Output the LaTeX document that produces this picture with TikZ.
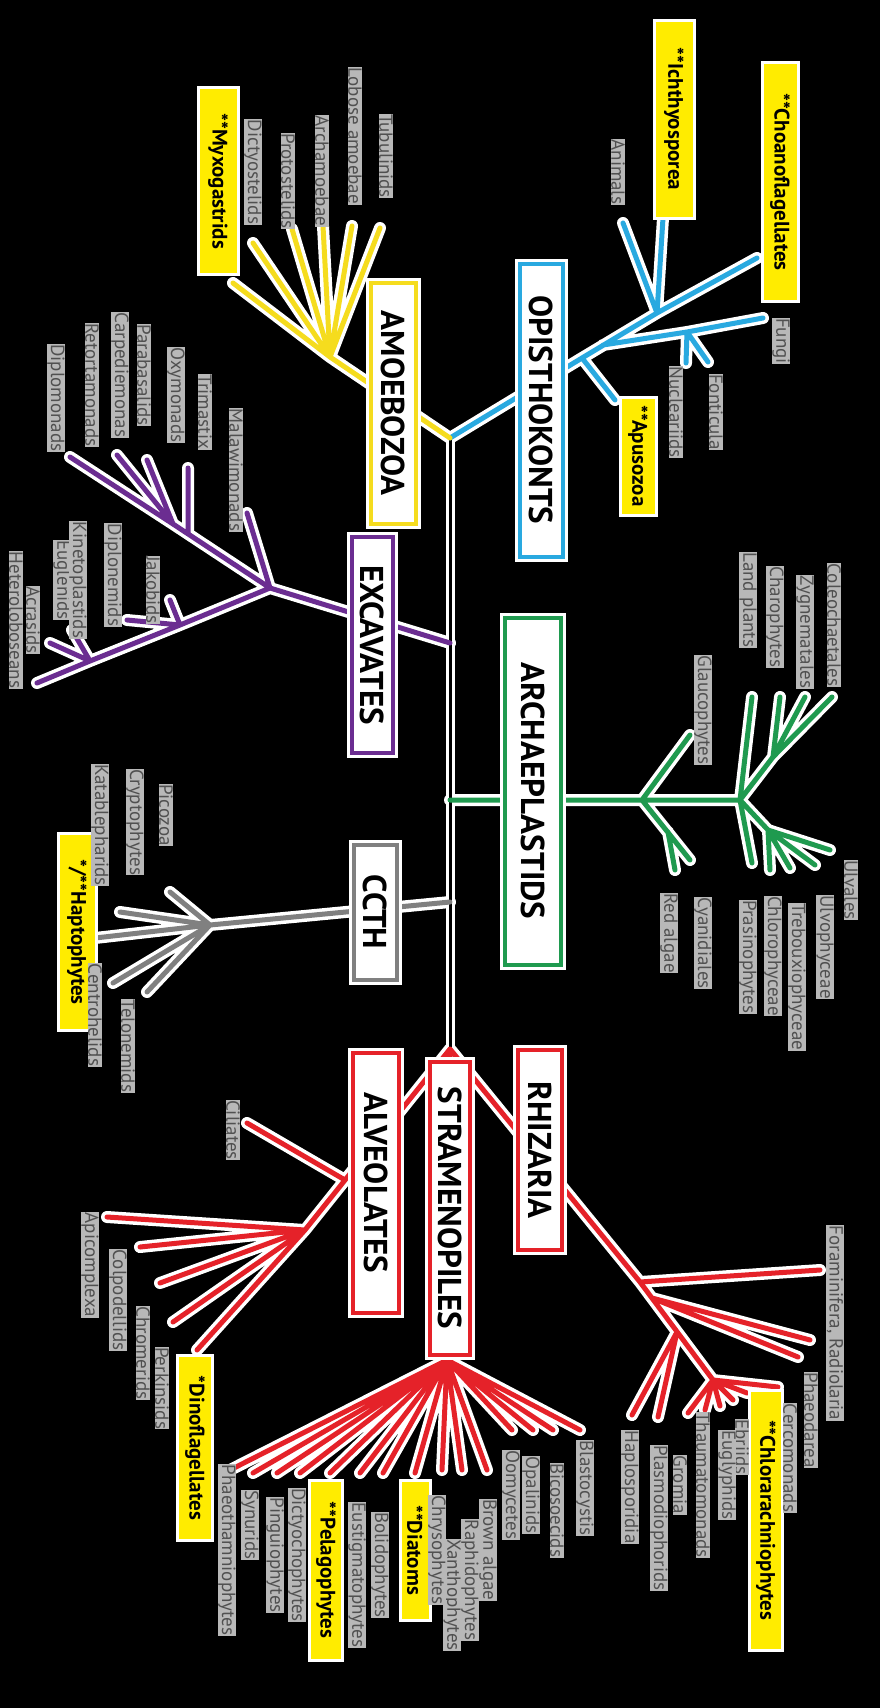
\documentclass[tikz,border=0pt]{standalone}
\usepackage{fontspec}
\setmainfont{PT Sans}
\definecolor{opi}{HTML}{29A9E0}
\definecolor{amo}{HTML}{F5DC1E}
\definecolor{exc}{HTML}{6B2D91}
\definecolor{arc}{HTML}{1F9A4F}
\definecolor{cct}{HTML}{808080}
\definecolor{rdd}{HTML}{E52229}
\definecolor{hly}{HTML}{FFEC00}
\definecolor{labfill}{HTML}{B8B8B8}
\definecolor{labtext}{HTML}{505050}
\newcommand\pathOpi{(J0)--(N1)--(N2)--(oCho) (N2)--(oIch) (N2)--(oAni) (N1)--(oApu) (NA)--(N3)--(oFun) (N3)--(oNuA) (N3)--(oNuB)}
\newcommand\pathAmo{(J0)--(AM1) (AM1)--(a1) (AM1)--(a2) (AM1)--(a3) (AM1)--(a4) (AM1)--(a5) (AM1)--(a6)}
\newcommand\pathExc{(JE)--(E1)--(e1) (E1)--(E2)--(e2) (E2)--(e3) (E2)--(e4) (Em)--(e5) (E1)--(E3)--(E4)--(e6) (E3)--(e7) (E3)--(e8) (E4)--(e9) (E4)--(e10)}
\newcommand\pathArc{(JA)--(G1)--(G2) (G1)--(g1) (G1)--(g2) (Gb)--(g3) (G2)--(g4) (G2)--(G3)--(g5) (G3)--(g6) (G3)--(g7) (G2)--(g8) (G2)--(G4)--(g9) (G4)--(g10) (G4)--(g11) (G4)--(g12)}
\newcommand\pathCct{(JC)--(C1)--(c1) (C1)--(c2) (C1)--(c3) (C1)--(c4) (C1)--(c5)}
\newcommand\pathRed{(J1)--(R1)--(r1) (R1)--(R3) (R2)--(r2) (R2)--(r3) (Rm)--(r4) (Rm)--(r5) (R3)--(r6) (R3)--(r7) (R3)--(r8) (R3)--(r9) (R3)--(r10) (R3)--(r11)
 (J1)--(A2) (A1)--(al0) (A2)--(al1) (A2)--(al2) (A2)--(al3) (A2)--(al4) (A2)--(al5)
 (J1)--(S1) (S1)--(s1) (S1)--(s2) (S1)--(s3) (S1)--(s4) (S1)--(s5) (S1)--(s6) (S1)--(s7) (S1)--(s8) (S1)--(s9) (S1)--(s10) (S1)--(s11) (S1)--(s12) (S1)--(s13) (S1)--(s14) (S1)--(s15)}
\begin{document}
\begin{tikzpicture}[x=1pt,y=-1pt,
 halo/.style={draw=white,line width=12pt,line cap=round},
 br/.style={draw=#1,line width=5pt,line cap=round},
 grp/.style={draw=#1,fill=white,line width=4pt,rotate=-90,text=black,inner sep=0pt,
   preaction={draw=white,line width=10pt},font=\bfseries\fontsize{33}{33}\selectfont},
 hl/.style={fill=hly,draw=white,line width=3pt,rotate=-90,text=black,inner sep=2pt,
   font=\bfseries\fontsize{21}{21}\selectfont},
 lab/.style={rotate=-90,text=labtext,fill=labfill,inner sep=0.5pt,
   font=\fontsize{19}{19}\selectfont}]
\fill[black] (0,0) rectangle (880,1708);
\useasboundingbox (0,0) rectangle (880,1708);
% trunk junctions
\coordinate (J0) at (450,438);
\coordinate (J1) at (450,1049);
\coordinate (JE) at (450,643);
\coordinate (JA) at (450,800);
\coordinate (JC) at (450,902);
% opisthokonts
\coordinate (N1) at (582,358);
\coordinate (N2) at (657,313);
\coordinate (NA) at (603,345);
\coordinate (N3) at (687,332);
\coordinate (oCho) at (757,258);
\coordinate (oIch) at (663,218);
\coordinate (oAni) at (623,223);
\coordinate (oApu) at (615,400);
\coordinate (oFun) at (763,318);
\coordinate (oNuA) at (686,363);
\coordinate (oNuB) at (708,362);
% amoebozoa
\coordinate (AM1) at (330,357);
\coordinate (a1) at (380,228);
\coordinate (a2) at (352,226);
\coordinate (a3) at (323,226);
\coordinate (a4) at (292,229);
\coordinate (a5) at (253,243);
\coordinate (a6) at (233,283);
% excavates
\coordinate (E1) at (270,588);
\coordinate (E2) at (173,524);
\coordinate (Em) at (188,534);
\coordinate (E3) at (180,625);
\coordinate (E4) at (90,661);
\coordinate (e1) at (247,513);
\coordinate (e2) at (70,457);
\coordinate (e3) at (117,455);
\coordinate (e4) at (147,460);
\coordinate (e5) at (188,468);
\coordinate (e6) at (37,683);
\coordinate (e7) at (127,620);
\coordinate (e8) at (170,600);
\coordinate (e9) at (50,643);
\coordinate (e10) at (72,630);
% archaeplastids
\coordinate (G1) at (642,800);
\coordinate (G2) at (740,800);
\coordinate (Gb) at (668,832);
\coordinate (G3) at (773,757);
\coordinate (G4) at (768,830);
\coordinate (g1) at (690,735);
\coordinate (g2) at (690,860);
\coordinate (g3) at (675,870);
\coordinate (g4) at (752,697);
\coordinate (g5) at (780,697);
\coordinate (g6) at (805,697);
\coordinate (g7) at (832,697);
\coordinate (g8) at (752,863);
\coordinate (g9) at (770,870);
\coordinate (g10) at (790,868);
\coordinate (g11) at (815,865);
\coordinate (g12) at (830,850);
% ccth
\coordinate (C1) at (210,925);
\coordinate (c1) at (120,912);
\coordinate (c2) at (170,892);
\coordinate (c3) at (95,938);
\coordinate (c4) at (113,983);
\coordinate (c5) at (147,992);
% rhizaria
\coordinate (R1) at (640,1282);
\coordinate (R2) at (652,1298);
\coordinate (Rm) at (677,1332);
\coordinate (R3) at (713,1380);
\coordinate (r1) at (820,1270);
\coordinate (r2) at (810,1340);
\coordinate (r3) at (798,1357);
\coordinate (r4) at (632,1415);
\coordinate (r5) at (658,1417);
\coordinate (r6) at (778,1387);
\coordinate (r7) at (747,1393);
\coordinate (r8) at (733,1400);
\coordinate (r9) at (720,1406);
\coordinate (r10) at (705,1410);
\coordinate (r11) at (688,1413);
% alveolates
\coordinate (A1) at (345,1180);
\coordinate (A2) at (305,1230);
\coordinate (al0) at (247,1123);
\coordinate (al1) at (107,1217);
\coordinate (al2) at (140,1247);
\coordinate (al3) at (160,1283);
\coordinate (al4) at (173,1322);
\coordinate (al5) at (197,1350);
% stramenopiles
\coordinate (S1) at (447,1360);
\coordinate (s1) at (512,1430);
\coordinate (s2) at (533,1430);
\coordinate (s3) at (553,1430);
\coordinate (s4) at (580,1430);
\coordinate (s5) at (487,1470);
\coordinate (s6) at (462,1470);
\coordinate (s7) at (442,1470);
\coordinate (s8) at (415,1473);
\coordinate (s9) at (383,1473);
\coordinate (s10) at (360,1473);
\coordinate (s11) at (330,1473);
\coordinate (s12) at (300,1473);
\coordinate (s13) at (277,1473);
\coordinate (s14) at (253,1473);
\coordinate (s15) at (230,1470);
% halos
\draw[halo] \pathOpi \pathAmo \pathExc \pathArc \pathCct \pathRed;
\draw[draw=white,line width=9pt] (J0)--(J1);
\draw[draw=black,line width=3pt] (J0)--(J1);
% coloured branches
\draw[br=opi] \pathOpi;
\draw[br=amo] \pathAmo;
\draw[br=exc] \pathExc;
\draw[br=arc] \pathArc;
\draw[br=cct] \pathCct;
\draw[br=rdd] \pathRed;
% group boxes
\node[grp=opi,minimum width=293,minimum height=43] (gOpi) at (541,410) {OPISTHOKONTS};
\node[grp=amo,minimum width=241,minimum height=45] (gAmo) at (393,403) {AMOEBOZOA};
\node[grp=exc,minimum width=216,minimum height=41] (gExc) at (372,645) {EXCAVATES};
\node[grp=arc,minimum width=347,minimum height=56] (gArc) at (533,791) {ARCHAEPLASTIDS};
\node[grp=cct,minimum width=135,minimum height=43] (gCct) at (375,912) {CCTH};
\node[grp=rdd,minimum width=200,minimum height=44] (gRhi) at (540,1150) {RHIZARIA};
\node[grp=rdd,minimum width=260,minimum height=46] (gAlv) at (376,1183) {ALVEOLATES};
\node[grp=rdd,minimum width=293,minimum height=40] (gStr) at (450,1208) {STRAMENOPILES};
% highlighted taxa
\node[hl,minimum width=239,minimum height=36] (hCho) at (780,182) {**Choanoflagellates};
\node[hl,minimum width=198,minimum height=40] (hIch) at (674,119) {**Ichthyosporea};
\node[hl,minimum width=118,minimum height=36] (hApu) at (638,456) {**Apusozoa};
\node[hl,minimum width=187,minimum height=40] (hMyx) at (218,181) {**Myxogastrids};
\node[hl,minimum width=197,minimum height=38] (hHap) at (77,932) {*/**Haptophytes};
\node[hl,minimum width=260,minimum height=33] (hChl) at (766,1520) {**Chlorarachniophytes};
\node[hl,minimum width=185,minimum height=35] (hDin) at (195,1448) {*Dinoflagellates};
\node[hl,minimum width=140,minimum height=30] (hDia) at (415,1550) {**Diatoms};
\node[hl,minimum width=180,minimum height=33] (hPel) at (326,1570) {**Pelagophytes};
% grey taxa labels
\node[lab] (tAni) at (618,172) {Animals};
\node[lab] (tFun) at (781,341) {Fungi};
\node[lab] (tNuc) at (676,412) {Nucleariids};
\node[lab] (tFon) at (716,412) {Fonticula};
\node[lab] (tDic) at (253,172) {Dictyostelids};
\node[lab] (tPro) at (288,181) {Protostelids};
\node[lab] (tArm) at (322,171) {Archamoebae};
\node[lab] (tLob) at (355,136) {Lobose amoebae};
\node[lab] (tTub) at (386,156) {Tubulinids};
\node[lab] (tDip) at (56,398) {Diplomonads};
\node[lab] (tRet) at (92,385) {Retortamonads};
\node[lab] (tCar) at (120,375) {Carpediemonas};
\node[lab] (tPar) at (144,375) {Parabasalids};
\node[lab] (tOxy) at (176,395) {Oxymonads};
\node[lab] (tTri) at (205,412) {Trimastix};
\node[lab] (tMal) at (236,470) {Malawimonads};
\node[lab] (tHet) at (16,620) {Heteroloboseans};
\node[lab] (tAcr) at (33,620) {Acrasids};
\node[lab] (tEug) at (62,580) {Euglenids};
\node[lab] (tKin) at (78,580) {Kinetoplastids};
\node[lab] (tDpn) at (113,575) {Diplonemids};
\node[lab] (tJak) at (153,590) {Jakobids};
\node[lab] (tKat) at (100,825) {Katablepharids};
\node[lab] (tCry) at (135,822) {Cryptophytes};
\node[lab] (tPic) at (166,815) {Picozoa};
\node[lab] (tCen) at (95,1015) {Centrohelids};
\node[lab] (tTel) at (128,1046) {Telonemids};
\node[lab] (tGla) at (703,710) {Glaucophytes};
\node[lab] (tLan) at (748,600) {Land plants};
\node[lab] (tCha) at (775,617) {Charophytes};
\node[lab] (tZyg) at (805,632) {Zygnematales};
\node[lab] (tCol) at (834,625) {Coleochaetales};
\node[lab] (tRed) at (669,933) {Red algae};
\node[lab] (tCya) at (703,943) {Cyanidiales};
\node[lab] (tPra) at (748,957) {Prasinophytes};
\node[lab] (tChp) at (773,956) {Chlorophyceae};
\node[lab] (tTre) at (797,977) {Trebouxiophyceae};
\node[lab] (tUlv) at (825,947) {Ulvophyceae};
\node[lab] (tUla) at (851,890) {Ulvales};
\node[lab] (tFor) at (835,1323) {Foraminifera, Radiolaria};
\node[lab] (tPha) at (811,1420) {Phaeodarea};
\node[lab] (tCer) at (790,1458) {Cercomonads};
\node[lab] (tEbr) at (742,1447) {Ebriids};
\node[lab] (tEgl) at (727,1475) {Euglyphids};
\node[lab] (tTha) at (703,1485) {Thaumatomonads};
\node[lab] (tGro) at (680,1485) {Gromia};
\node[lab] (tPls) at (659,1518) {Plasmodiophorids};
\node[lab] (tHap) at (630,1487) {Haplosporidia};
\node[lab] (tCil) at (233,1130) {Ciliates};
\node[lab] (tApi) at (90,1265) {Apicomplexa};
\node[lab] (tCpd) at (118,1300) {Colpodellids};
\node[lab] (tChr) at (143,1353) {Chromerids};
\node[lab] (tPer) at (162,1388) {Perkinsids};
\node[lab] (tOom) at (511,1495) {Oomycetes};
\node[lab] (tOpa) at (531,1495) {Opalinids};
\node[lab] (tBic) at (557,1510) {Bicosoecids};
\node[lab] (tBla) at (585,1488) {Blastocystis};
\node[lab] (tBro) at (488,1550) {Brown algae};
\node[lab] (tRap) at (470,1580) {Raphidophytes};
\node[lab] (tXan) at (452,1595) {Xanthophytes};
\node[lab] (tChy) at (437,1550) {Chrysophytes};
\node[lab] (tBol) at (380,1565) {Bolidophytes};
\node[lab] (tEus) at (357,1575) {Eustigmatophytes};
\node[lab] (tDct) at (297,1555) {Dictyochophytes};
\node[lab] (tPin) at (275,1555) {Pinguiophytes};
\node[lab] (tSyn) at (250,1525) {Synurids};
\node[lab] (tPht) at (227,1550) {Phaeothamniophytes};
\end{tikzpicture}
\end{document}
